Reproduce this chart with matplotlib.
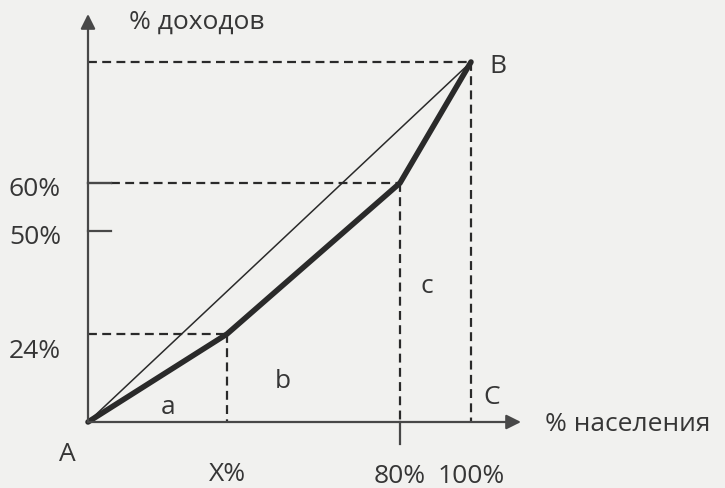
import numpy as np
import matplotlib.pyplot as plt

plt.rcParams['font.family'] = ['Open Sans', 'DejaVu Sans']

# Кривая Лоренца: доля населения -> доля доходов, %
pop = [0, 37, 80, 100]          # 37 - оценка точки "X%"
income = [0, 24, 60, 100]

pop_ticks = [37, 80, 100]
pop_labels = ['X%', '80%', '100%']
income_ticks = [60, 50, 24]
income_labels = ['60%', '50%', '24%']

# схема нарисована не в масштабе: где опорные значения стоят на картинке (px)
x_ref = [0, 37, 80, 100]
x_pix = [88, 227, 400, 471]
y_ref = [0, 24, 50, 60, 100]
y_pix = [66, 154, 257, 305, 426]

W, H = 725, 489
ink = '#2a2a2a'
axis_col = '#484848'
txt_col = '#363636'


def make_scale(ref, pix):
    ref = np.asarray(ref, float)
    pix = np.asarray(pix, float)
    lo = (pix[1] - pix[0]) / (ref[1] - ref[0])
    hi = (pix[-1] - pix[-2]) / (ref[-1] - ref[-2])

    def fwd(v):
        v = np.asarray(v, float)
        out = np.interp(v, ref, pix)
        out = np.where(v < ref[0], pix[0] + (v - ref[0]) * lo, out)
        return np.where(v > ref[-1], pix[-1] + (v - ref[-1]) * hi, out)

    def inv(p):
        p = np.asarray(p, float)
        out = np.interp(p, pix, ref)
        out = np.where(p < pix[0], ref[0] + (p - pix[0]) / lo, out)
        return np.where(p > pix[-1], ref[-1] + (p - pix[-1]) / hi, out)

    return fwd, inv


fx, ix = make_scale(x_ref, x_pix)
fy, iy = make_scale(y_ref, y_pix)

fig = plt.figure(figsize=(W / 100, H / 100), dpi=100)
fig.patch.set_facecolor('#f1f1ef')
ax = fig.add_axes([0, 0, 1, 1])
ax.set_xscale('function', functions=(fx, ix))
ax.set_yscale('function', functions=(fy, iy))
ax.set_xlim(float(ix(0)), float(ix(W)))
ax.set_ylim(float(iy(0)), float(iy(H)))
ax.axis('off')


def fig_xy(px, py):
    return px / W, 1 - py / H


# оси со стрелками
arrow = dict(arrowstyle='-|>', lw=1.6, color=axis_col, mutation_scale=22,
             shrinkA=0, shrinkB=0)
ax.annotate('', xy=(0, fig_xy(0, 15)[1]), xycoords=('data', 'axes fraction'),
            xytext=(0, 0), textcoords='data', arrowprops=arrow)
ax.annotate('', xy=(fig_xy(521, 0)[0], 0), xycoords=('axes fraction', 'data'),
            xytext=(0, 0), textcoords='data', arrowprops=arrow)

# пунктирные проекции
dash = dict(color=ink, lw=1.6, dashes=(4, 2.4))
ax.plot([0, pop[-1]], [income[-1], income[-1]], **dash)
ax.plot([pop[-1], pop[-1]], [income[-1], 0], **dash)
ax.plot([6, pop[2]], [income[2], income[2]], **dash)
ax.plot([pop[2], pop[2]], [income[2], 0], **dash)
ax.plot([0, pop[1]], [income[1], income[1]], **dash)
ax.plot([pop[1], pop[1]], [income[1], 0], **dash)

# засечки
ax.plot([0, 6], [60, 60], color=axis_col, lw=1.7)
ax.plot([0, 6], [50, 50], color=axis_col, lw=1.6)
ax.plot([80, 80], [0, -6], color=axis_col, lw=1.6, clip_on=False)

# линия равенства и кривая Лоренца
ax.plot([0, 100], [0, 100], color=ink, lw=1.1)
ax.plot(pop, income, color=ink, lw=4.0, solid_joinstyle='round',
        solid_capstyle='round')

fs = 19
for v, lab in zip(pop_ticks, pop_labels):
    dy = 475 if lab == 'X%' else 477
    ax.text(v, fig_xy(0, dy)[1], lab, transform=ax.get_xaxis_transform(),
            ha='center', va='center', fontsize=fs, color=txt_col)
for v, lab, off in zip(income_ticks, income_labels, [-6, -6, -17]):
    ax.annotate(lab, xy=(fig_xy(35, 0)[0], v), xycoords=('axes fraction', 'data'),
                xytext=(0, off), textcoords='offset pixels',
                ha='center', va='center', fontsize=fs, color=txt_col)

labels = [('% доходов', 197, 22, 'center'), ('% населения', 545, 425, 'left'),
          ('A', 67, 455, 'center'), ('B', 498, 67, 'center'),
          ('C', 492, 398, 'center'), ('a', 168, 408, 'center'),
          ('b', 283, 382, 'center'), ('c', 427, 287, 'center')]
for s, px, py, ha in labels:
    ax.text(*fig_xy(px, py), s, transform=ax.transAxes, ha=ha, va='center',
            fontsize=fs, color=txt_col)

fig.savefig('out.png', dpi=100, facecolor=fig.get_facecolor())
